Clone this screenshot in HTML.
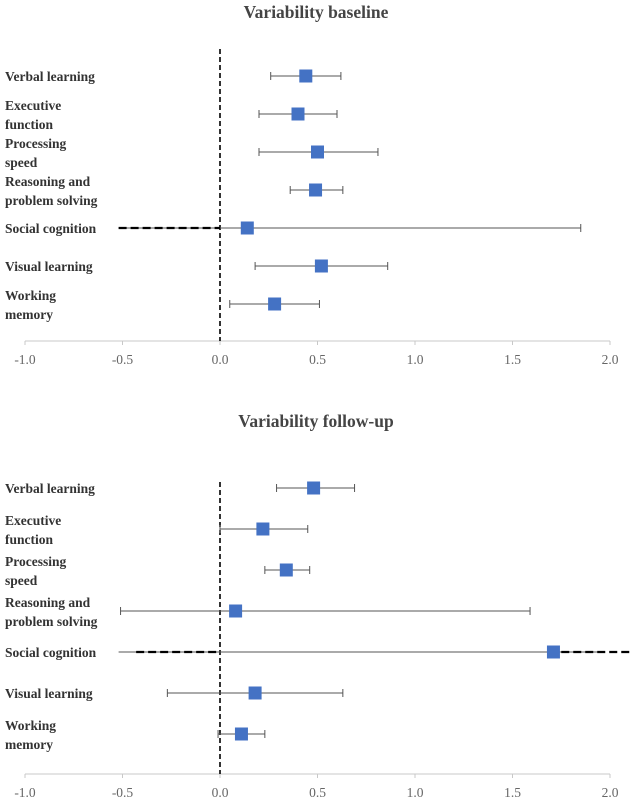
<!DOCTYPE html>
<html><head><meta charset="utf-8"><style>
body{margin:0;background:#fff;}
svg{display:block;font-family:"Liberation Serif",serif;}
</style></head><body>
<svg id="c" width="633" height="802"></svg>
<script>
const categories=[["Verbal learning"],["Executive","function"],["Processing","speed"],["Reasoning and","problem solving"],["Social cognition"],["Visual learning"],["Working","memory"]];
const baseMean=[0.44,0.40,0.50,0.49,0.14,0.52,0.28];
const baseLow=[0.26,0.20,0.20,0.36,-0.52,0.18,0.05];
const baseHigh=[0.62,0.60,0.81,0.63,1.85,0.86,0.51];
const fuMean=[0.48,0.22,0.34,0.08,1.71,0.18,0.11];
const fuLow=[0.29,0.00,0.23,-0.51,-0.52,-0.27,-0.01];
const fuHigh=[0.69,0.45,0.46,1.59,1.97,0.63,0.23];
const ticks=[-1.0,-0.5,0.0,0.5,1.0,1.5,2.0];
const tickLabels=["-1.0","-0.5","0.0","0.5","1.0","1.5","2.0"];
const svg=document.getElementById('c');
const NS='http://www.w3.org/2000/svg';
function mk(t,a,p){const e=document.createElementNS(NS,t);for(const k in a)e.setAttribute(k,a[k]);(p||svg).appendChild(e);return e;}
const xs=v=>220+v*195;
function panel(id,title,titleY,firstRow,step,axisY,dashTop,mean,low,high,social,noCap){
  const g=mk('g',{});
  
  
  const t=mk('text',{x:316,y:titleY,'text-anchor':'middle','font-size':17.5,'font-weight':'bold',fill:'#444'},g);
  t.textContent=title;
  
  
  const ax=mk('line',{x1:xs(-1),x2:xs(2),y1:axisY,y2:axisY,stroke:'#c8c8c8','stroke-width':1},g);
  
  
  ticks.forEach((v,i)=>{
    mk('line',{x1:xs(v),x2:xs(v),y1:axisY,y2:axisY+4,stroke:'#c8c8c8'},g);
    const tl=mk('text',{x:xs(v),y:axisY+23,'text-anchor':'middle','font-size':13.5,fill:'#666'},g);
    tl.textContent=tickLabels[i];
    
    
  });
  const zl=mk('line',{x1:xs(0),x2:xs(0),y1:dashTop,y2:axisY,stroke:'#000','stroke-width':1.6,'stroke-dasharray':'5,3'},g);
  
  
  categories.forEach((c,i)=>{
    const y=firstRow+i*step;
    const lab=mk('text',{x:5,'font-size':13.5,'font-weight':'bold',fill:'#333'},g);
    
    
    if(c.length===1){lab.setAttribute('y',y+5);lab.textContent=c[0];}
    else{c.forEach((s,j)=>{const ts=mk('tspan',{x:5,y:y-4+j*19},lab);ts.textContent=s;});}
    const x1=xs(low[i]),x2=xs(high[i]);
    const eb=mk('line',{x1:x1,x2:x2,y1:y,y2:y,stroke:'#555','stroke-width':1},g);
    
    
    if(i!==4){
      mk('line',{x1:x1,x2:x1,y1:y-4,y2:y+4,stroke:'#555'},g);
      mk('line',{x1:x2,x2:x2,y1:y-4,y2:y+4,stroke:'#555'},g);
    } else if(!noCap){
      mk('line',{x1:x2,x2:x2,y1:y-4,y2:y+4,stroke:'#555'},g);
    }
    const m=mk('rect',{x:xs(mean[i])-6.5,y:y-6.5,width:13,height:13,fill:'#4472c4'},g);
    
    
  });
  const sy=firstRow+4*step;
  social.forEach(s=>{
    const d=mk('line',{x1:xs(s[0]),x2:xs(s[1]),y1:sy,y2:sy,stroke:'#000','stroke-width':2.2,'stroke-dasharray':'8,4'},g);
    
    
  });
}
panel('baseline-panel','Variability baseline',18,76,38,341,49,baseMean,baseLow,baseHigh,[[-0.52,0]],false);
panel('followup-panel','Variability follow-up',427,488,41,774,482,fuMean,fuLow,fuHigh,[[-0.43,0],[1.75,2.12]],true);
</script>
</body></html>
